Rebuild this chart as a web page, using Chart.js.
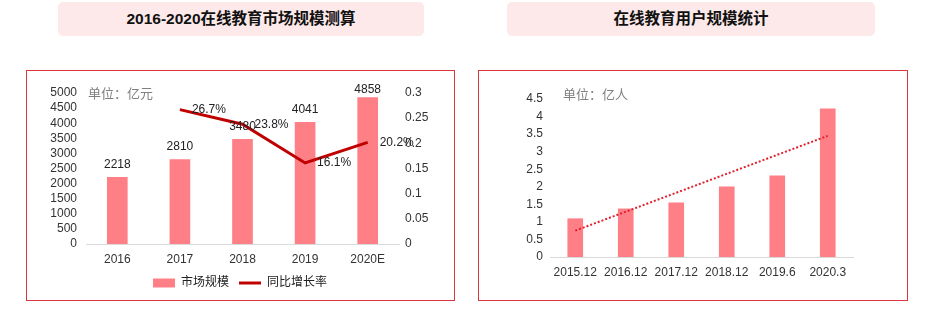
<!DOCTYPE html>
<html>
<head>
<meta charset="utf-8">
<script src="https://cdn.jsdelivr.net/npm/chart.js@4/dist/chart.umd.min.js"></script>
<style>
	body { margin: 0; background: #fff; width: 933px; height: 323px; position: relative; overflow: hidden;
		font-family: "Liberation Sans", "Noto Sans CJK SC", sans-serif; }
	.titel { position: absolute; top: 2px; height: 34px; line-height: 34px; background: #fde9e9; border-radius: 5px;
		text-align: center; font-weight: bold; font-size: 15.5px; color: #111;
		font-family: "Liberation Sans Narrow", "Liberation Sans", "Noto Sans CJK SC", sans-serif; }
	.panel { position: absolute; top: 70px; height: 229px; border: 1px solid #d9363e; }
	.einheit { position: absolute; font-size: 13px; color: #808080; }
	canvas { position: absolute; }
</style>
</head>
<body>
<div class="titel" style="left:58px; width:366px;">2016-2020在线教育市场规模测算</div>
<div class="titel" style="left:507px; width:368px;">在线教育用户规模统计</div>
<div class="panel" style="left:26px; width:427px;"></div>
<div class="panel" style="left:478px; width:428px;"></div>
<canvas id="marktChart" width="426" height="228" style="left:27px; top:71px;"></canvas>
<canvas id="nutzerChart" width="427" height="228" style="left:479px; top:71px;"></canvas>
<div class="einheit" style="left:88px; top:83px;">单位：亿元</div>
<div class="einheit" style="left:563px; top:84px;">单位：亿人</div>
<script>
// Daten Markt
const marktJahre = ["2016", "2017", "2018", "2019", "2020E"];
const marktGroesse = [2218, 2810, 3480, 4041, 4858];
const marktWachstum = [null, 0.267, 0.238, 0.161, 0.202];

// Daten Nutzer
const nutzerZeitpunkte = ["2015.12", "2016.12", "2017.12", "2018.12", "2019.6", "2020.3"];
const nutzerZahl = [1.10, 1.38, 1.55, 2.01, 2.32, 4.23];
const nutzerTrend = [0.75, null, null, null, null, 3.45];

const schrift = "'Liberation Sans', 'Noto Sans CJK SC', sans-serif";
const balkenFarbe = "#ff7f86";
const tickFarbe = "#333";

Chart.defaults.font.family = schrift;
Chart.defaults.font.size = 12;
Chart.defaults.color = tickFarbe;

const zahlFormat = v => String(Number(v.toFixed(2)));

// Werte ueber den Balken / neben den Punkten
const wertePlugin = {
	id: "werte",
	afterDatasetsDraw(chart) {
		const ctx = chart.ctx;
		ctx.save();
		ctx.font = "12px " + schrift;
		ctx.fillStyle = "#222";
		ctx.textBaseline = "middle";
		chart.data.datasets.forEach((ds, i) => {
			if (!ds.labels) return;
			const meta = chart.getDatasetMeta(i);
			meta.data.forEach((el, j) => {
				const v = ds.data[j];
				if (v === null) return;
				if (ds.labels === "bar") {
					ctx.textAlign = "center";
					ctx.fillText(String(v), el.x, Math.max(el.y - 12, chart.chartArea.top - 3));
				} else {
					ctx.textAlign = "left";
					ctx.fillText((v * 100).toFixed(1) + "%", el.x + 12, el.y);
				}
			});
		});
		ctx.restore();
	}
};

new Chart(document.getElementById("marktChart"), {
	type: "bar",
	data: {
		labels: marktJahre,
		datasets: [
			{
				type: "line",
				label: "同比增长率",
				data: marktWachstum,
				yAxisID: "y1",
				borderColor: "#c00000",
				backgroundColor: "#c00000",
				borderWidth: 3,
				pointRadius: 0,
				tension: 0,
				labels: "line",
				order: 0
			},
			{
				label: "市场规模",
				data: marktGroesse,
				yAxisID: "y",
				backgroundColor: balkenFarbe,
				barPercentage: 0.33,
				categoryPercentage: 1,
				labels: "bar",
				order: 1
			}
		]
	},
	options: {
		responsive: false,
		animation: false,
		layout: { padding: { top: 22, left: 0, right: 0, bottom: 0 } },
		scales: {
			x: {
				grid: { display: false, drawTicks: false },
				border: { color: "#d9d9d9" },
				ticks: { padding: 8 },
				afterFit: axis => { axis.height = 23; }
			},
			y: {
				position: "left",
				min: 0,
				max: 5000,
				ticks: { stepSize: 500, padding: 9, autoSkip: false, callback: v => String(v) },
				grid: { display: false, drawTicks: false },
				border: { display: false },
				afterFit: axis => { axis.width = 59; }
			},
			y1: {
				position: "right",
				min: 0,
				max: 0.3,
				ticks: { stepSize: 0.05, padding: 6, autoSkip: false, callback: zahlFormat },
				grid: { display: false, drawTicks: false },
				border: { display: false },
				afterFit: axis => { axis.width = 54; }
			}
		},
		plugins: {
			legend: {
				position: "bottom",
				reverse: true,
				labels: {
					usePointStyle: true,
					pointStyleWidth: 22,
					boxHeight: 9,
					padding: 10,
					color: "#222",
					generateLabels: chart => {
						const items = Chart.defaults.plugins.legend.labels.generateLabels(chart);
						items.forEach(it => {
							if (it.text === "市场规模") { it.pointStyle = "rect"; it.lineWidth = 0; }
							else { it.pointStyle = "line"; it.lineWidth = 3; }
						});
						return items;
					}
				}
			},
			tooltip: { enabled: false }
		}
	},
	plugins: [wertePlugin]
});

new Chart(document.getElementById("nutzerChart"), {
	type: "bar",
	data: {
		labels: nutzerZeitpunkte,
		datasets: [
			{
				type: "line",
				label: "趋势",
				data: nutzerTrend,
				spanGaps: true,
				borderColor: "#e0202e",
				borderWidth: 2,
				borderDash: [2, 2],
				pointRadius: 0,
				order: 0
			},
			{
				label: "用户规模",
				data: nutzerZahl,
				backgroundColor: balkenFarbe,
				barPercentage: 0.31,
				categoryPercentage: 1,
				order: 1
			}
		]
	},
	options: {
		responsive: false,
		animation: false,
		layout: { padding: { top: 28, left: 0, right: 53, bottom: 17 } },
		scales: {
			x: {
				grid: { display: false, drawTicks: false },
				border: { color: "#d9d9d9" },
				ticks: { padding: 8 },
				afterFit: axis => { axis.height = 25; }
			},
			y: {
				min: 0,
				max: 4.5,
				ticks: { stepSize: 0.5, padding: 7, autoSkip: false, callback: zahlFormat },
				grid: { display: false, drawTicks: false },
				border: { display: false },
				afterFit: axis => { axis.width = 71; }
			}
		},
		plugins: {
			legend: { display: false },
			tooltip: { enabled: false }
		}
	}
});
</script>
</body>
</html>
